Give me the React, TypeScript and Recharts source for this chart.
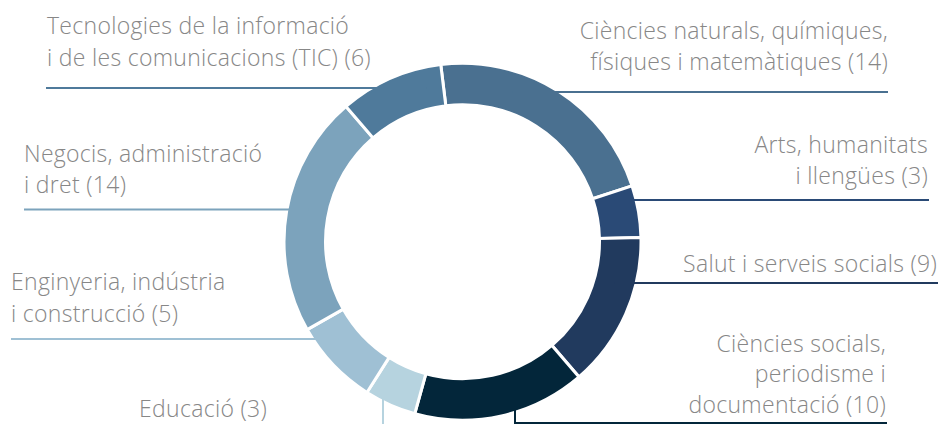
import React from "react";
import { PieChart, Pie, Cell } from "recharts";

const categories = [
  "Ciències naturals, químiques, físiques i matemàtiques",
  "Arts, humanitats i llengües",
  "Salut i serveis socials",
  "Ciències socials, periodisme i documentació",
  "Educació",
  "Enginyeria, indústria i construcció",
  "Negocis, administració i dret",
  "Tecnologies de la informació i de les comunicacions (TIC)",
];
const values = [14, 3, 9, 10, 3, 5, 14, 6];
const labelLines = [
  ["Ciències naturals, químiques,", "físiques i matemàtiques"],
  ["Arts, humanitats", "i llengües"],
  ["Salut i serveis socials"],
  ["Ciències socials,", "periodisme i", "documentació"],
  ["Educació"],
  ["Enginyeria, indústria", "i construcció"],
  ["Negocis, administració", "i dret"],
  ["Tecnologies de la informació", "i de les comunicacions (TIC)"],
];
const colors = [
  "#4a7090",
  "#2a4a76",
  "#213a5e",
  "#03263a",
  "#b6d3df",
  "#9fc0d4",
  "#7ca3bc",
  "#4f7a9b",
];

const data = categories.map((name, i) => ({
  name,
  value: values[i],
  lines: labelLines[i],
}));

// label placement (text anchor, x, baselines, leader line)
type Layout = {
  anchor: "start" | "end";
  x: number;
  ys: number[];
  line: { kind: "h"; y: number; to: number } | { kind: "v"; x: number; toY: number; toX?: number };
};
const layouts: Layout[] = [
  { anchor: "end", x: 888, ys: [39, 70], line: { kind: "h", y: 92, to: 888 } },
  { anchor: "end", x: 928, ys: [153, 184], line: { kind: "h", y: 200, to: 929 } },
  { anchor: "end", x: 937, ys: [272], line: { kind: "h", y: 283, to: 938 } },
  { anchor: "end", x: 886, ys: [352, 382, 413], line: { kind: "v", x: 515, toY: 423, toX: 887 } },
  { anchor: "end", x: 267, ys: [417], line: { kind: "v", x: 383, toY: 430 } },
  { anchor: "start", x: 11, ys: [290, 322], line: { kind: "h", y: 339, to: 11 } },
  { anchor: "start", x: 24, ys: [162, 193], line: { kind: "h", y: 209.5, to: 24 } },
  { anchor: "start", x: 47, ys: [34, 66], line: { kind: "h", y: 88, to: 46 } },
];

const CX = 462.5;
const CY = 241.7;
const INNER = 137;
const OUTER = 178.5;

const renderLabel = (props: any) => {
  const { index, cx, cy, innerRadius, outerRadius, value } = props;
  const L = layouts[index];
  const lines: string[] = data[index].lines;
  const rMid = (innerRadius + outerRadius) / 2;
  const color = colors[index];
  let path = "";
  if (L.line.kind === "h") {
    const dy = L.line.y - cy;
    const dx = Math.sqrt(Math.max(rMid * rMid - dy * dy, 0));
    const sx = L.line.to > cx ? cx + dx : cx - dx;
    path = `M${sx},${L.line.y}L${L.line.to},${L.line.y}`;
  } else {
    const dx = L.line.x - cx;
    const dy = Math.sqrt(Math.max(rMid * rMid - dx * dx, 0));
    const sy = cy + dy;
    path = `M${L.line.x},${sy}L${L.line.x},${L.line.toY}`;
    if (L.line.toX !== undefined) path += `L${L.line.toX},${L.line.toY}`;
  }
  return (
    <g key={`lbl-${index}`}>
      <path d={path} stroke={color} strokeWidth={2} fill="none" />
      <text
        textAnchor={L.anchor}
        fill="#878787"
        fontFamily="'Open Sans', Lato, sans-serif"
        fontWeight={300}
        fontSize={23}
        letterSpacing={0.3}
      >
        {lines.map((t, i) => (
          <tspan key={i} x={L.x} y={L.ys[i]}>
            {i === lines.length - 1 ? `${t} (${value})` : t}
          </tspan>
        ))}
      </text>
    </g>
  );
};

export default function App() {
  return (
    <div style={{ width: 940, height: 424, background: "#fff" }}>
      <style>{`body{margin:0}`}</style>
      <PieChart width={940} height={424} margin={{ top: 0, right: 0, bottom: 0, left: 0 }}>
        <Pie
          data={data}
          dataKey="value"
          nameKey="name"
          cx={CX}
          cy={CY}
          innerRadius={INNER}
          outerRadius={OUTER}
          startAngle={97}
          endAngle={-263}
          isAnimationActive={false}
          label={renderLabel}
          labelLine={false}
          fill="none"
          stroke="none"
        >
          {data.map((d, i) => (
            <Cell key={i} fill="transparent" stroke="none" />
          ))}
        </Pie>
        <Pie
          data={data}
          dataKey="value"
          nameKey="name"
          cx={CX}
          cy={CY}
          innerRadius={INNER}
          outerRadius={OUTER}
          startAngle={97}
          endAngle={-263}
          isAnimationActive={false}
          stroke="#ffffff"
          strokeWidth={3}
        >
          {data.map((d, i) => (
            <Cell key={i} fill={colors[i]} />
          ))}
        </Pie>
      </PieChart>
    </div>
  );
}
